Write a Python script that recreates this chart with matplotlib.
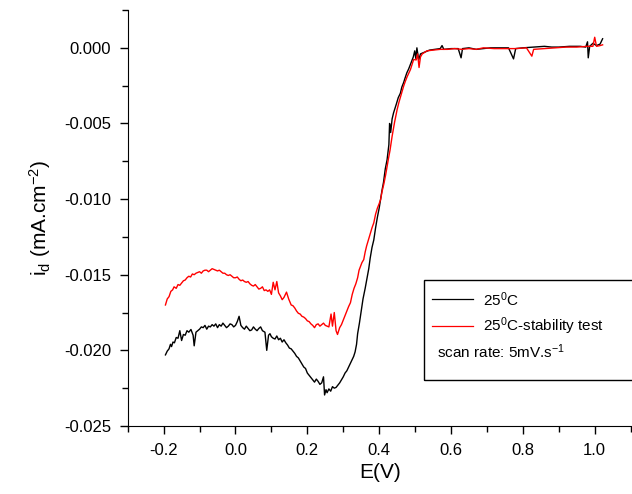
import matplotlib
matplotlib.use('Agg')
import matplotlib.pyplot as plt
from matplotlib.lines import Line2D
from matplotlib.patches import Rectangle
from matplotlib.ticker import MultipleLocator, FuncFormatter

plt.rcParams['font.family'] = ['Liberation Sans', 'DejaVu Sans']
plt.rcParams['mathtext.fontset'] = 'custom'
plt.rcParams['mathtext.rm'] = 'Liberation Sans'
plt.rcParams['mathtext.it'] = 'Liberation Sans:italic'

# 25 C  (potential in V, current density in mA.cm-2)
E_25 = [-0.195, -0.190, -0.185, -0.181, -0.178, -0.174, -0.170, -0.165, -0.160, -0.155,
        -0.150, -0.145, -0.140, -0.135, -0.130, -0.124, -0.118, -0.115, -0.110, -0.105,
        -0.100, -0.095, -0.090, -0.085, -0.080, -0.075, -0.070, -0.065, -0.060, -0.055,
        -0.050, -0.045, -0.040, -0.035, -0.030, -0.025, -0.020, -0.015, -0.010, -0.005,
        0.000, 0.005, 0.010, 0.015, 0.020, 0.025, 0.030, 0.035, 0.040, 0.045,
        0.050, 0.055, 0.060, 0.065, 0.070, 0.075, 0.082, 0.087, 0.092, 0.096,
        0.100, 0.105, 0.110, 0.115, 0.120, 0.125, 0.130, 0.135, 0.140, 0.145,
        0.150, 0.155, 0.160, 0.165, 0.170, 0.175, 0.180, 0.185, 0.190, 0.195,
        0.200, 0.205, 0.210, 0.215, 0.220, 0.225, 0.230, 0.235, 0.240, 0.245,
        0.248, 0.252, 0.255, 0.260, 0.265, 0.270, 0.275, 0.280, 0.285, 0.290,
        0.295, 0.300, 0.305, 0.310, 0.315, 0.320, 0.325, 0.329, 0.333, 0.337,
        0.340, 0.345, 0.350, 0.355, 0.361, 0.367, 0.371, 0.375, 0.380, 0.385,
        0.390, 0.395, 0.400, 0.404, 0.408, 0.412, 0.417, 0.422, 0.427, 0.429,
        0.432, 0.436, 0.440, 0.444, 0.448, 0.453, 0.459, 0.463, 0.468, 0.472,
        0.477, 0.482, 0.487, 0.491, 0.495, 0.499, 0.502, 0.505, 0.510, 0.515,
        0.525, 0.540, 0.555, 0.570, 0.575, 0.580, 0.600, 0.620, 0.628, 0.632,
        0.650, 0.670, 0.690, 0.710, 0.730, 0.760, 0.774, 0.780, 0.800, 0.830,
        0.860, 0.880, 0.900, 0.930, 0.960, 0.975, 0.980, 0.982, 0.986, 0.995,
        1.005, 1.015, 1.022]
i_25 = [-0.02030, -0.02005, -0.01990, -0.01960, -0.01975, -0.01945, -0.01950, -0.01915, -0.01920, -0.01870,
        -0.01935, -0.01895, -0.01900, -0.01870, -0.01880, -0.01862, -0.01900, -0.01970, -0.01880, -0.01870,
        -0.01860, -0.01845, -0.01850, -0.01835, -0.01860, -0.01840, -0.01845, -0.01830, -0.01840, -0.01825,
        -0.01850, -0.01830, -0.01840, -0.01820, -0.01835, -0.01850, -0.01840, -0.01825, -0.01830, -0.01845,
        -0.01835, -0.01810, -0.01775, -0.01835, -0.01850, -0.01860, -0.01840, -0.01855, -0.01870, -0.01865,
        -0.01845, -0.01860, -0.01870, -0.01855, -0.01845, -0.01870, -0.01880, -0.02000, -0.01900, -0.01890,
        -0.01910, -0.01920, -0.01925, -0.01905, -0.01930, -0.01920, -0.01945, -0.01930, -0.01950, -0.01965,
        -0.01985, -0.01990, -0.02005, -0.02020, -0.02040, -0.02050, -0.02070, -0.02090, -0.02110, -0.02120,
        -0.02150, -0.02165, -0.02180, -0.02195, -0.02210, -0.02190, -0.02205, -0.02225, -0.02215, -0.02175,
        -0.02295, -0.02260, -0.02280, -0.02255, -0.02270, -0.02240, -0.02250, -0.02245, -0.02230, -0.02215,
        -0.02195, -0.02175, -0.02150, -0.02135, -0.02110, -0.02085, -0.02060, -0.02040, -0.02010, -0.01960,
        -0.01890, -0.01820, -0.01740, -0.01660, -0.01590, -0.01510, -0.01460, -0.01390, -0.01320, -0.01270,
        -0.01190, -0.01120, -0.01060, -0.01000, -0.00940, -0.00890, -0.00800, -0.00740, -0.00640, -0.00500,
        -0.00560, -0.00470, -0.00430, -0.00400, -0.00370, -0.00330, -0.00300, -0.00260, -0.00230, -0.00200,
        -0.00165, -0.00140, -0.00110, -0.00085, -0.00060, -0.00020, -0.00070, 0.00000, -0.00080, -0.00040,
        -0.00030, -0.00015, -0.00010, -0.00005, 0.00015, -0.00010, -0.00005, -0.00005, -0.00066, -0.00005,
        0.00000, -0.00010, -0.00005, 0.00000, 0.00000, 0.00000, -0.00073, -0.00005, 0.00000, 0.00005,
        0.00010, 0.00005, 0.00005, 0.00010, 0.00010, 0.00005, 0.00040, -0.00066, 0.00010, 0.00030,
        0.00015, 0.00025, 0.00060]

# 25 C - stability test
E_stab = [-0.195, -0.190, -0.185, -0.180, -0.175, -0.171, -0.165, -0.160, -0.155, -0.150,
          -0.145, -0.140, -0.135, -0.130, -0.125, -0.120, -0.115, -0.110, -0.105, -0.100,
          -0.095, -0.090, -0.085, -0.080, -0.075, -0.070, -0.065, -0.060, -0.055, -0.050,
          -0.045, -0.040, -0.035, -0.030, -0.025, -0.020, -0.015, -0.010, -0.005, 0.000,
          0.005, 0.010, 0.015, 0.020, 0.025, 0.030, 0.035, 0.040, 0.045, 0.050,
          0.055, 0.060, 0.065, 0.070, 0.075, 0.080, 0.085, 0.090, 0.095, 0.100,
          0.105, 0.110, 0.115, 0.120, 0.125, 0.130, 0.135, 0.142, 0.148, 0.155,
          0.160, 0.165, 0.170, 0.175, 0.180, 0.185, 0.190, 0.195, 0.200, 0.205,
          0.210, 0.215, 0.220, 0.225, 0.230, 0.235, 0.240, 0.245, 0.250, 0.255,
          0.260, 0.266, 0.270, 0.275, 0.280, 0.284, 0.290, 0.295, 0.300, 0.305,
          0.310, 0.315, 0.320, 0.325, 0.330, 0.335, 0.340, 0.344, 0.348, 0.352,
          0.357, 0.361, 0.365, 0.370, 0.375, 0.380, 0.385, 0.390, 0.395, 0.400,
          0.404, 0.408, 0.413, 0.418, 0.422, 0.426, 0.430, 0.436, 0.443, 0.450,
          0.455, 0.460, 0.468, 0.473, 0.478, 0.487, 0.496, 0.503, 0.507, 0.511,
          0.515, 0.520, 0.533, 0.550, 0.570, 0.590, 0.610, 0.630, 0.650, 0.670,
          0.690, 0.720, 0.750, 0.780, 0.810, 0.825, 0.830, 0.860, 0.890, 0.920,
          0.950, 0.980, 0.995, 1.000, 1.005, 1.015, 1.022]
i_stab = [-0.01700, -0.01660, -0.01645, -0.01610, -0.01600, -0.01580, -0.01590, -0.01565, -0.01570, -0.01555,
          -0.01540, -0.01535, -0.01520, -0.01510, -0.01515, -0.01495, -0.01500, -0.01490, -0.01485, -0.01480,
          -0.01490, -0.01475, -0.01470, -0.01470, -0.01480, -0.01470, -0.01460, -0.01465, -0.01470, -0.01475,
          -0.01470, -0.01480, -0.01490, -0.01490, -0.01500, -0.01505, -0.01500, -0.01510, -0.01520, -0.01520,
          -0.01515, -0.01530, -0.01540, -0.01535, -0.01545, -0.01550, -0.01545, -0.01560, -0.01570, -0.01575,
          -0.01565, -0.01580, -0.01595, -0.01590, -0.01580, -0.01605, -0.01600, -0.01610, -0.01600, -0.01630,
          -0.01550, -0.01600, -0.01545, -0.01620, -0.01640, -0.01665, -0.01650, -0.01615, -0.01660, -0.01700,
          -0.01705, -0.01720, -0.01740, -0.01755, -0.01760, -0.01775, -0.01780, -0.01790, -0.01805, -0.01810,
          -0.01825, -0.01835, -0.01850, -0.01830, -0.01825, -0.01840, -0.01830, -0.01820, -0.01835, -0.01840,
          -0.01845, -0.01760, -0.01840, -0.01750, -0.01870, -0.01895, -0.01850, -0.01830, -0.01800, -0.01770,
          -0.01740, -0.01710, -0.01685, -0.01630, -0.01590, -0.01560, -0.01520, -0.01470, -0.01445, -0.01420,
          -0.01400, -0.01350, -0.01310, -0.01270, -0.01230, -0.01190, -0.01157, -0.01100, -0.01060, -0.01030,
          -0.01003, -0.00950, -0.00900, -0.00840, -0.00783, -0.00730, -0.00680, -0.00585, -0.00490, -0.00408,
          -0.00360, -0.00320, -0.00254, -0.00220, -0.00190, -0.00144, -0.00077, -0.00080, -0.00040, -0.00130,
          -0.00060, -0.00040, -0.00020, -0.00015, -0.00010, -0.00010, -0.00005, -0.00010, -0.00005, -0.00010,
          0.00000, -0.00005, -0.00005, -0.00005, 0.00000, -0.00055, -0.00010, -0.00005, 0.00000, 0.00005,
          0.00005, 0.00010, 0.00010, 0.00070, 0.00010, 0.00015, 0.00020]

label_25 = '25$^{0}$C'
label_stab = '25$^{0}$C-stability test'
note = 'scan rate: 5mV.s$^{-1}$'

fig = plt.figure(figsize=(6.32, 4.94), dpi=100)
ax = fig.add_axes([0.2021, 0.1377, 0.798, 0.842])

ax.plot(E_25, i_25, color='black', lw=1.0)
ax.plot(E_stab, i_stab, color='red', lw=1.0)

ax.set_xlim(-0.3, 1.104)
ax.set_ylim(-0.025, 0.0025)
ax.spines['top'].set_visible(False)
ax.spines['right'].set_visible(False)

ax.xaxis.set_major_locator(MultipleLocator(0.2))
ax.xaxis.set_minor_locator(MultipleLocator(0.1))
ax.yaxis.set_major_locator(MultipleLocator(0.005))
ax.yaxis.set_minor_locator(MultipleLocator(0.0025))
ax.xaxis.set_major_formatter(FuncFormatter(lambda v, p: '%.1f' % (0.0 if abs(v) < 1e-9 else v)))
ax.yaxis.set_major_formatter(FuncFormatter(lambda v, p: '%.3f' % (0.0 if abs(v) < 1e-9 else v)))
ax.tick_params(which='major', length=6, width=1, labelsize=12, pad=6)
ax.tick_params(which='minor', length=4, width=1)

ax.set_xlabel('E(V)', fontsize=15, labelpad=4)
ax.set_ylabel('i$_\\mathrm{d}$ (mA.cm$^{-2}$)', fontsize=15, labelpad=8)

# legend box, drawn by hand (it runs off the right edge)
fig.add_artist(Rectangle((423.5 / 632, 1 - 379.5 / 494), 0.35, 100 / 494,
                         transform=fig.transFigure, fill=False, lw=1, ec='black'))
fig.add_artist(Line2D([431.7 / 632, 473.3 / 632], [1 - 299.3 / 494] * 2,
                      transform=fig.transFigure, color='black', lw=0.9))
fig.add_artist(Line2D([431.7 / 632, 473.3 / 632], [1 - 326 / 494] * 2,
                      transform=fig.transFigure, color='red', lw=0.9))
fig.text(482.7 / 632, 1 - 299.3 / 494, label_25, fontsize=11, va='center')
fig.text(482.7 / 632, 1 - 326 / 494, label_stab, fontsize=11, va='center')
fig.text(437 / 632, 1 - 352 / 494, note, fontsize=11, va='center')

fig.savefig('out.png', dpi=100)
